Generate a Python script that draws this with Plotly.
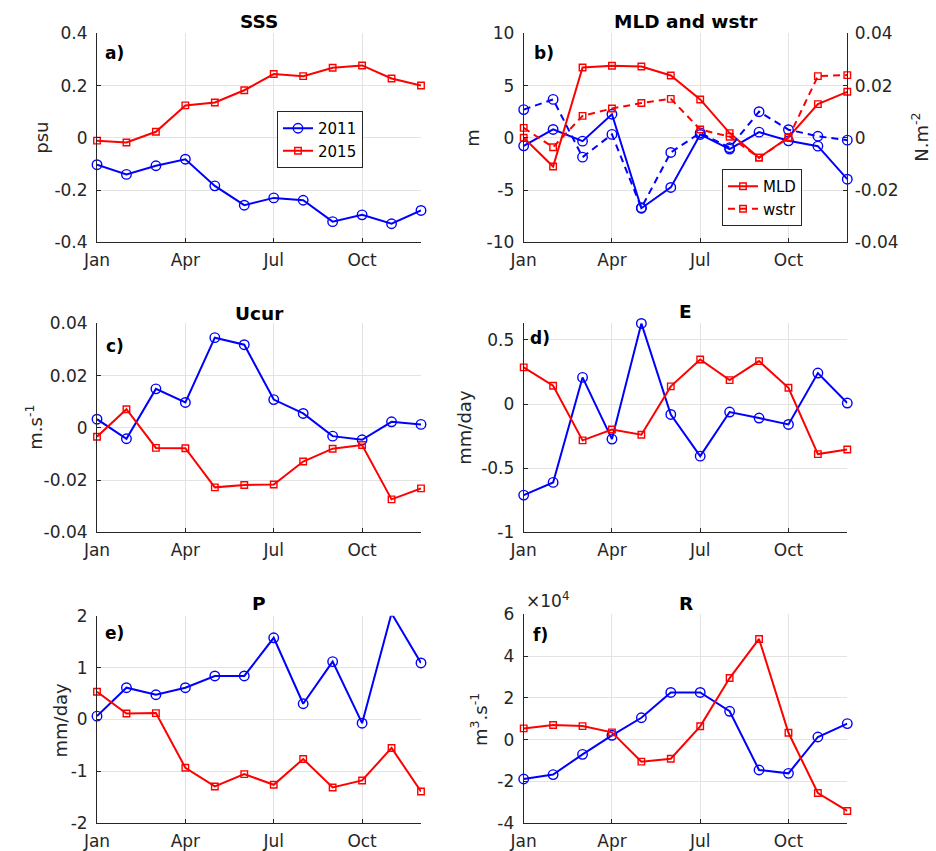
import plotly.graph_objects as go

# ---------------- data ----------------
months = [1, 2, 3, 4, 5, 6, 7, 8, 9, 10, 11, 12]
month_tickvals = [1, 4, 7, 10]
month_ticktext = ["Jan", "Apr", "Jul", "Oct"]

sss_2011 = [-0.103, -0.140, -0.107, -0.082, -0.184, -0.258, -0.230, -0.239, -0.321, -0.295, -0.329, -0.278]
sss_2015 = [-0.011, -0.018, 0.023, 0.124, 0.135, 0.182, 0.244, 0.236, 0.268, 0.277, 0.227, 0.200]

mld_2011 = [-0.77, 0.80, -0.32, 2.26, -6.74, -4.75, 0.32, -1.08, 0.54, -0.29, -0.80, -3.96]
mld_2015 = [0.0, -2.75, 6.73, 6.89, 6.83, 5.96, 3.67, 0.45, -1.90, 0.05, 3.22, 4.40]
wstr_2011 = [0.0108, 0.0147, -0.0074, 0.0013, -0.0268, -0.0056, 0.0019, -0.0038, 0.0100, 0.0031, 0.0006, -0.0009]
wstr_2015 = [0.0038, -0.0036, 0.0084, 0.0112, 0.0133, 0.0149, 0.0032, 0.0004, -0.0076, 0.0, 0.0236, 0.0240]

ucur_2011 = [0.0033, -0.0042, 0.0149, 0.0097, 0.0345, 0.0318, 0.0108, 0.0055, -0.0032, -0.0046, 0.0023, 0.0013]
ucur_2015 = [-0.0034, 0.0071, -0.0077, -0.0078, -0.0228, -0.0219, -0.0217, -0.0129, -0.0080, -0.0066, -0.0274, -0.0232]

e_2011 = [-0.710, -0.611, 0.208, -0.273, 0.629, -0.081, -0.406, -0.062, -0.109, -0.159, 0.242, 0.008]
e_2015 = [0.286, 0.143, -0.283, -0.198, -0.239, 0.138, 0.348, 0.187, 0.335, 0.127, -0.390, -0.354]

p_2011 = [0.065, 0.613, 0.477, 0.613, 0.839, 0.839, 1.574, 0.303, 1.116, -0.071, 2.045, 1.090]
p_2015 = [0.535, 0.116, 0.123, -0.929, -1.290, -1.052, -1.258, -0.761, -1.310, -1.174, -0.548, -1.387]

r_2011 = [-18800, -16700, -7000, 2100, 10500, 22600, 22600, 13600, -14500, -16100, 1300, 7700]
r_2015 = [5400, 7000, 6500, 3500, -10500, -9100, 6400, 29500, 48200, 3300, -25500, -34100]

sss_ticks = [-0.4, -0.2, 0, 0.2, 0.4]
sss_ticktext = ["-0.4", "-0.2", "0", "0.2", "0.4"]
mld_ticks = [-10, -5, 0, 5, 10]
mld_ticktext = ["-10", "-5", "0", "5", "10"]
wstr_ticks = [-0.04, -0.02, 0, 0.02, 0.04]
wstr_ticktext = ["-0.04", "-0.02", "0", "0.02", "0.04"]
ucur_ticks = [-0.04, -0.02, 0, 0.02, 0.04]
ucur_ticktext = ["-0.04", "-0.02", "0", "0.02", "0.04"]
e_ticks = [-1, -0.5, 0, 0.5]
e_ticktext = ["-1", "-0.5", "0", "0.5"]
p_ticks = [-2, -1, 0, 1, 2]
p_ticktext = ["-2", "-1", "0", "1", "2"]
r_ticks = [-40000, -20000, 0, 20000, 40000, 60000]
r_ticktext = ["-4", "-2", "0", "2", "4", "6"]

# ---------------- styling ----------------
W, H = 936, 851
FONT = "DejaVu Sans"
AXC = "#262626"
GRIDC = "#e3e3e3"
BLUE = "#0000ff"
RED = "#ff0000"


def dx(l, r):
    return [l / W, r / W]


def dy(t, b):
    return [1 - b / H, 1 - t / H]


fig = go.Figure()


def add_pair(xa, ya, y11, y15, show=False, legend="legend"):
    fig.add_trace(go.Scatter(
        x=months, y=y11, xaxis=xa, yaxis=ya, mode="lines+markers", name="2011",
        line=dict(color=BLUE, width=2),
        marker=dict(symbol="circle-open", size=9.5, color=BLUE, line=dict(width=1.4)),
        showlegend=show, legend=legend, cliponaxis=False))
    fig.add_trace(go.Scatter(
        x=months, y=y15, xaxis=xa, yaxis=ya, mode="lines+markers", name="2015",
        line=dict(color=RED, width=2),
        marker=dict(symbol="square-open", size=6.5, color=RED, line=dict(width=1.4)),
        showlegend=show, legend=legend, cliponaxis=False))


add_pair("x", "y", sss_2011, sss_2015, show=True, legend="legend")

# panel b
DASH = "7px,5px"
fig.add_trace(go.Scatter(
    x=months, y=wstr_2011, xaxis="x2", yaxis="y3", mode="lines+markers", name="wstr 2011",
    line=dict(color=BLUE, width=2, dash=DASH),
    marker=dict(symbol="circle-open", size=9.5, color=BLUE, line=dict(width=1.4)),
    showlegend=False, cliponaxis=False))
fig.add_trace(go.Scatter(
    x=months, y=wstr_2015, xaxis="x2", yaxis="y3", mode="lines+markers", name="wstr",
    line=dict(color=RED, width=2, dash=DASH),
    marker=dict(symbol="square-open", size=6.5, color=RED, line=dict(width=1.4)),
    showlegend=True, legend="legend2", legendrank=2, cliponaxis=False))
fig.add_trace(go.Scatter(
    x=months, y=mld_2011, xaxis="x2", yaxis="y2", mode="lines+markers", name="MLD 2011",
    line=dict(color=BLUE, width=2),
    marker=dict(symbol="circle-open", size=9.5, color=BLUE, line=dict(width=1.4)),
    showlegend=False, cliponaxis=False))
fig.add_trace(go.Scatter(
    x=months, y=mld_2015, xaxis="x2", yaxis="y2", mode="lines+markers", name="MLD",
    line=dict(color=RED, width=2),
    marker=dict(symbol="square-open", size=6.5, color=RED, line=dict(width=1.4)),
    showlegend=True, legend="legend2", legendrank=1, cliponaxis=False))

add_pair("x3", "y4", ucur_2011, ucur_2015)
add_pair("x4", "y5", e_2011, e_2015)
add_pair("x5", "y6", p_2011, p_2015)
add_pair("x6", "y7", r_2011, r_2015)

tickfont = dict(family=FONT, size=17, color=AXC)


def xax(dom, anchor):
    return dict(domain=dom, anchor=anchor, range=[1, 12], tickvals=month_tickvals,
                ticktext=month_ticktext, showgrid=True, gridcolor=GRIDC, gridwidth=1,
                showline=True, linecolor=AXC, linewidth=1, ticks="inside", ticklen=4,
                tickcolor=AXC, tickfont=tickfont, zeroline=False, ticklabelstandoff=2,
                automargin=False)


def yax(dom, anchor, rng, tv, tt, side="left", overlaying=None, grid=True, standoff=5):
    d = dict(domain=dom, anchor=anchor, range=rng, tickvals=tv, ticktext=tt,
             showgrid=grid, gridcolor=GRIDC, gridwidth=1, showline=True, linecolor=AXC,
             linewidth=1, ticks="inside", ticklen=4, tickcolor=AXC, tickfont=tickfont,
             zeroline=False, side=side, ticklabelstandoff=standoff, automargin=False)
    if overlaying:
        d["overlaying"] = overlaying
    return d


XL, XR = 97, 421
XL2, XR2 = 523.7, 847.3

layout = dict(
    width=W, height=H, margin=dict(l=0, r=0, t=0, b=0, autoexpand=False),
    paper_bgcolor="white", plot_bgcolor="white",
    font=dict(family=FONT, color=AXC),
    xaxis=xax(dx(XL, XR), "y"),
    yaxis=yax(dy(33.3, 242.3), "x", [-0.4, 0.4], sss_ticks, sss_ticktext),
    xaxis2=xax(dx(XL2, XR2), "y2"),
    yaxis2=yax(dy(33.3, 242.3), "x2", [-10, 10], mld_ticks, mld_ticktext),
    yaxis3=yax(dy(33.3, 242.3), "x2", [-0.04, 0.04], wstr_ticks, wstr_ticktext,
               side="right", overlaying="y2", grid=False, standoff=3),
    xaxis3=xax(dx(XL, XR), "y4"),
    yaxis4=yax(dy(323.3, 532.3), "x3", [-0.04, 0.04], ucur_ticks, ucur_ticktext),
    xaxis4=xax(dx(XL2, XR2), "y5"),
    yaxis5=yax(dy(323.3, 532.3), "x4", [-1, 0.63], e_ticks, e_ticktext),
    xaxis5=xax(dx(XL, XR), "y6"),
    yaxis6=yax(dy(615.7, 823.3), "x5", [-2, 2], p_ticks, p_ticktext),
    xaxis6=xax(dx(XL2, XR2), "y7"),
    yaxis7=yax(dy(614.3, 823.3), "x6", [-40000, 60000], r_ticks, r_ticktext),
    legend=dict(x=277 / W, y=1 - 139.5 / H, xanchor="left", yanchor="middle",
                bgcolor="white", bordercolor=AXC, borderwidth=1,
                font=dict(family=FONT, size=15, color="#000000"),
                tracegroupgap=0, itemwidth=30),
    legend2=dict(x=722 / W, y=1 - 197.5 / H, xanchor="left", yanchor="middle",
                 bgcolor="white", bordercolor=AXC, borderwidth=1,
                 font=dict(family=FONT, size=15, color="#000000"),
                 tracegroupgap=0, itemwidth=30, traceorder="normal"),
)
fig.update_layout(**layout)

ann = []


def txt(x, y, s, size=17, bold=False, angle=0, color="#000000"):
    ann.append(dict(x=x / W, y=1 - y / H, xref="paper", yref="paper", text=s,
                    showarrow=False, xanchor="center", yanchor="middle",
                    textangle=angle,
                    font=dict(family=FONT, size=size, color=color,
                              weight="bold" if bold else "normal")))


# titles
txt(259, 22, "SSS", size=18.5, bold=True)
txt(685.5, 22, "MLD and wstr", size=18.5, bold=True)
txt(259, 313, "Ucur", size=18.5, bold=True)
txt(685.5, 312, "E", size=18.5, bold=True)
txt(259, 603, "P", size=18.5, bold=True)
txt(685.5, 603, "R", size=18.5, bold=True)

# panel letters
txt(114, 53, "a)", bold=True)
txt(544, 53, "b)", bold=True)
txt(115, 346, "c)", bold=True)
txt(540, 338, "d)", bold=True)
txt(114, 633, "e)", bold=True)
txt(540, 635, "f)", bold=True)

# y-axis labels
txt(42, 137.7, "psu", size=18, angle=-90, color=AXC)
txt(473, 137.7, "m", size=18, angle=-90, color=AXC)
txt(920, 137.7, "N.m<sup>-2</sup>", size=18, angle=-90, color=AXC)
txt(34, 427.7, "m.s<sup>-1</sup>", size=18, angle=-90, color=AXC)
txt(465, 427.7, "mm/day", size=18, angle=-90, color=AXC)
txt(60, 719.5, "mm/day", size=18, angle=-90, color=AXC)
txt(479, 719, "m<sup>3</sup>.s<sup>-1</sup>", size=18, angle=-90, color=AXC)

# exponent label
txt(547, 600, "×10<sup>4</sup>", size=17, color=AXC)

fig.update_layout(annotations=ann)
fig.write_html("out.html", config={"displayModeBar": False},
               post_script="document.body.style.margin='0';document.body.style.overflow='hidden';")
